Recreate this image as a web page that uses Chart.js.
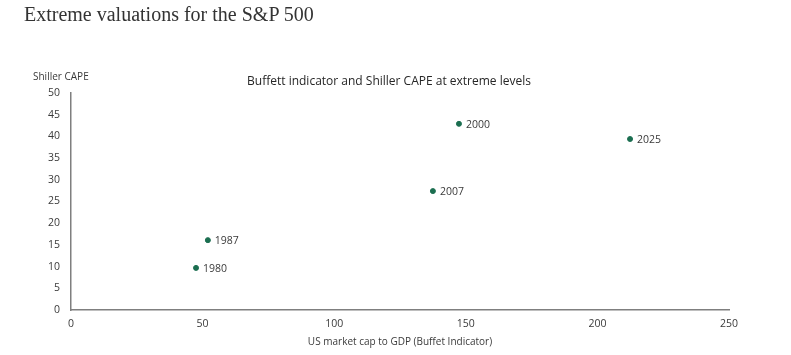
<!DOCTYPE html>
<html>
<head>
<meta charset="utf-8">
<script src="https://cdn.jsdelivr.net/npm/chart.js@4/dist/chart.umd.min.js"></script>
<style>
  html, body { margin: 0; padding: 0; background: #ffffff; }
  #wrap { position: relative; width: 791px; height: 355px; overflow: hidden; }
  #heading { position: absolute; left: 24px; top: 3px; font-family: "Liberation Serif", serif; font-size: 20px; color: #333; white-space: nowrap; }
  #c { position: absolute; left: 0; top: 0; }
</style>
</head>
<body>
<div id="wrap">
  <canvas id="c" width="791" height="355"></canvas>
  <div id="heading">Extreme valuations for the S&amp;P 500</div>
</div>
<script>
const years = ["1980", "1987", "2000", "2007", "2025"];
const buffettIndicator = [47.5, 52.0, 147.4, 137.5, 212.4];
const shillerCape = [9.7, 16.1, 42.9, 27.4, 39.4];
const xTicks = [0, 50, 100, 150, 200, 250];
const yTicks = [0, 5, 10, 15, 20, 25, 30, 35, 40, 45, 50];

const chartTitle = "Buffett indicator and Shiller CAPE at extreme levels";
const xAxisTitle = "US market cap to GDP (Buffet Indicator)";
const yAxisTitle = "Shiller CAPE";

const sans = "'Open Sans', 'Noto Sans', sans-serif";
const textColor = "#3a3a3a";
const pointColor = "#1b6e50";

const points = years.map((y, i) => ({ x: buffettIndicator[i], y: shillerCape[i], label: y }));

const labelPlugin = {
  id: 'labels',
  afterDatasetsDraw(chart) {
    const ctx = chart.ctx;
    const meta = chart.getDatasetMeta(0);
    ctx.save();
    ctx.font = "10.5px " + sans;
    ctx.fillStyle = textColor;
    ctx.textAlign = 'left';
    ctx.textBaseline = 'middle';
    meta.data.forEach((el, i) => {
      ctx.fillText(points[i].label, el.x + 7, el.y + 1);
    });
    // chart title
    ctx.font = "12px " + sans;
    ctx.fillStyle = "#262626";
    ctx.textAlign = 'center';
    ctx.fillText(chartTitle, 389, 82);
    // y axis title
    ctx.font = "10px " + sans;
    ctx.fillStyle = textColor;
    ctx.textAlign = 'left';
    ctx.fillText(yAxisTitle, 33, 77);
    // x axis title
    ctx.textAlign = 'center';
    ctx.fillText(xAxisTitle, 400, 342);
    ctx.restore();
  }
};

new Chart(document.getElementById('c'), {
  type: 'scatter',
  data: {
    datasets: [{
      data: points,
      backgroundColor: pointColor,
      borderColor: pointColor,
      pointRadius: 2.5,
      pointHoverRadius: 2.5
    }]
  },
  options: {
    responsive: false,
    animation: false,
    layout: { padding: { left: 31, right: 62, top: 93, bottom: 0 } },
    plugins: { legend: { display: false }, tooltip: { enabled: false }, title: { display: false } },
    scales: {
      x: {
        type: 'linear', min: 0, max: 250,
        afterBuildTicks(s) { s.ticks = xTicks.map(v => ({ value: v })); },
        afterFit(s) { s.height = 45; },
        grid: { display: false, drawTicks: false },
        border: { display: true, color: '#7f7f7f', width: 1.5 },
        ticks: { color: textColor, font: { size: 10.5, family: sans }, padding: 8, maxRotation: 0, autoSkip: false }
      },
      y: {
        type: 'linear', min: 0, max: 50,
        afterBuildTicks(s) { s.ticks = yTicks.map(v => ({ value: v })); },
        afterFit(s) { s.width = 40; },
        grid: { display: false, drawTicks: false },
        border: { display: true, color: '#7f7f7f', width: 1.5 },
        ticks: { color: textColor, font: { size: 10.5, family: sans }, padding: 11, autoSkip: false }
      }
    }
  },
  plugins: [labelPlugin]
});
</script>
</body>
</html>
